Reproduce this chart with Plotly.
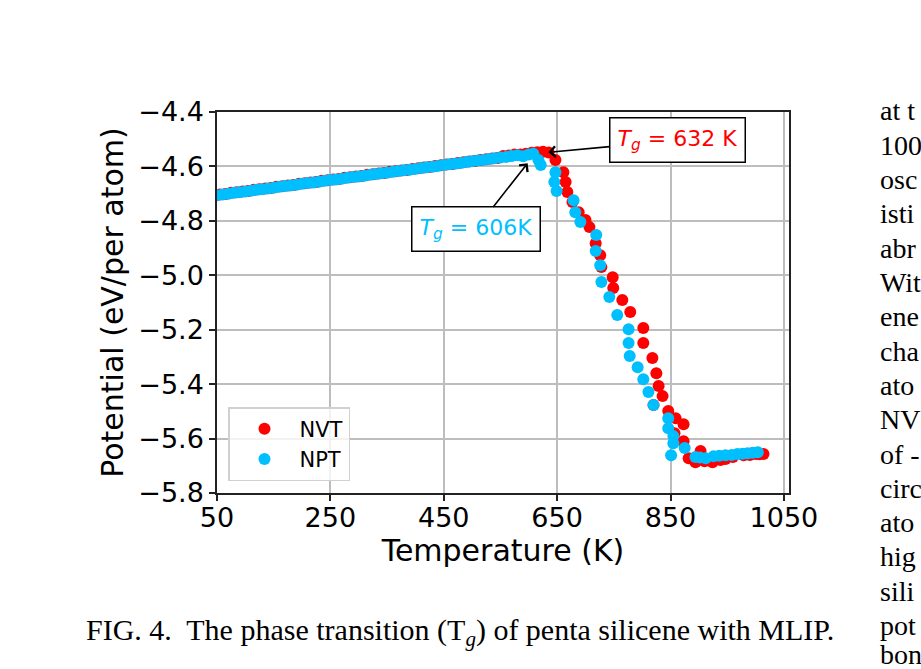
import plotly.graph_objects as go

# ---------------- data ----------------
nvt_T = [55, 65, 75, 85, 95, 105, 115, 125, 135, 145, 155, 165, 175, 185, 195, 205, 215, 225, 235, 245,
         255, 265, 275, 285, 295, 305, 315, 325, 335, 345, 355, 365, 375, 385, 395, 405, 415, 425, 435, 445,
         455, 465, 475, 485, 495, 505, 515, 525, 535, 545, 555, 565, 575, 585, 595, 605, 615, 625,
         635, 647, 661, 665, 668, 677, 688, 700, 707, 718, 726, 728, 748, 749, 765, 779, 802, 802,
         818, 825, 829, 836, 820, 846, 859, 873, 857, 873, 903, 882, 894, 910, 924, 938, 947, 960,
         979, 990, 1000, 1007, 1014]
nvt_V = [-4.703, -4.701, -4.697, -4.695, -4.692, -4.690, -4.686, -4.684, -4.681, -4.679, -4.675, -4.673,
         -4.670, -4.668, -4.664, -4.662, -4.659, -4.657, -4.653, -4.651, -4.648, -4.646, -4.642, -4.640,
         -4.637, -4.635, -4.631, -4.629, -4.626, -4.624, -4.620, -4.618, -4.615, -4.613, -4.609, -4.607,
         -4.604, -4.602, -4.598, -4.596, -4.593, -4.591, -4.587, -4.585, -4.582, -4.580, -4.576, -4.574,
         -4.571, -4.569, -4.562, -4.560, -4.556, -4.556, -4.553, -4.550, -4.548, -4.546,
         -4.549, -4.576, -4.621, -4.657, -4.694, -4.731, -4.768, -4.797, -4.823, -4.882, -4.926, -4.970,
         -5.007, -5.047, -5.091, -5.135, -5.194, -5.249, -5.304, -5.360, -5.407, -5.444, -5.477, -5.499,
         -5.525, -5.547, -5.580, -5.610, -5.646, -5.672, -5.687, -5.683, -5.687, -5.679, -5.675, -5.668,
         -5.661, -5.660, -5.657, -5.658, -5.657]

npt_T = [50, 60, 70, 80, 90, 100, 110, 120, 130, 140, 150, 160, 170, 180, 190, 200, 210, 220, 230, 240,
         250, 260, 270, 280, 290, 300, 310, 320, 330, 340, 350, 360, 370, 380, 390, 400, 410, 420, 430, 440,
         450, 460, 470, 480, 490, 500, 510, 520, 530, 540, 550, 560, 570, 580, 590, 600, 608, 617, 621,
         647, 645, 649, 679, 682, 691, 719, 718, 726, 728, 742, 756, 776, 776, 778, 792, 802, 811, 820,
         846, 846, 855, 855, 875, 851, 894, 902, 912, 926, 936, 947, 958, 968, 977, 986, 995, 1004]
npt_V = [-4.706, -4.703, -4.700, -4.697, -4.695, -4.692, -4.689, -4.686, -4.684, -4.681, -4.678, -4.675,
         -4.672, -4.670, -4.667, -4.664, -4.661, -4.659, -4.656, -4.653, -4.650, -4.648, -4.645, -4.642,
         -4.639, -4.637, -4.634, -4.631, -4.628, -4.625, -4.623, -4.620, -4.617, -4.614, -4.612, -4.609,
         -4.606, -4.603, -4.601, -4.598, -4.595, -4.592, -4.590, -4.587, -4.584, -4.581, -4.578, -4.576,
         -4.573, -4.570, -4.567, -4.565, -4.562, -4.559, -4.563, -4.556, -4.553, -4.576, -4.595,
         -4.621, -4.657, -4.690, -4.724, -4.768, -4.804, -4.852, -4.911, -4.963, -5.025, -5.080, -5.146,
         -5.198, -5.249, -5.297, -5.338, -5.382, -5.429, -5.477, -5.525, -5.562, -5.591, -5.617, -5.635,
         -5.661, -5.668, -5.670, -5.672, -5.665, -5.663, -5.661, -5.660, -5.657, -5.656, -5.654, -5.652,
         -5.650]

x_ticks = [50, 250, 450, 650, 850, 1050]
x_tick_labels = ["50", "250", "450", "650", "850", "1050"]
y_ticks = [-4.4, -4.6, -4.8, -5.0, -5.2, -5.4, -5.6, -5.8]
y_tick_labels = ["\u22124.4", "\u22124.6", "\u22124.8", "\u22125.0", "\u22125.2", "\u22125.4", "\u22125.6", "\u22125.8"]

tg_nvt = (634.6, -4.548)
tg_npt = (598.0, -4.588)

caption = "FIG. 4.  The phase transition (T<sub><i>g</i></sub>) of penta silicene with MLIP."
side_text = ["at t", "100", "osc", "isti", "abr", "Wit", "ene", "cha", "ato", "NV", "of -",
             "circ", "ato", "hig", "sili", "pot", "bon"]

# ---------------- layout geometry ----------------
W, H = 921, 669
L, R, T, B = 217, 789, 112, 493

def px(xp):
    return (xp - L) / (R - L)

def py(yp):
    return (B - yp) / (B - T)

RED = "#ff0000"
BLUE = "#00bfff"
FONT = "DejaVu Sans"

fig = go.Figure()
fig.add_trace(go.Scatter(x=nvt_T, y=nvt_V, mode="markers", name="NVT",
                         marker=dict(color=RED, size=12, line=dict(width=0))))
fig.add_trace(go.Scatter(x=npt_T, y=npt_V, mode="markers", name="NPT",
                         marker=dict(color=BLUE, size=12, line=dict(width=0))))

axis_common = dict(showline=True, linecolor="#222222", linewidth=1.5, mirror=True,
                   showgrid=True, gridcolor="#bdbdbd", gridwidth=1.5, zeroline=False,
                   ticks="outside", ticklen=6, tickwidth=1.5, tickcolor="#222222",
                   tickfont=dict(family=FONT, size=27, color="black"))

fig.update_layout(
    width=W, height=H,
    margin=dict(l=L, r=W - R, t=T, b=H - B),
    paper_bgcolor="white", plot_bgcolor="white",
    font=dict(family=FONT, color="black"),
    xaxis=dict(range=[50, 1059], tickvals=x_ticks, ticktext=x_tick_labels, ticklabelstandoff=-6,
               title=dict(text="Temperature (K)", font=dict(family=FONT, size=30), standoff=8),
               automargin=False, **axis_common),
    yaxis=dict(range=[-5.8, -4.4], tickvals=y_ticks, ticktext=y_tick_labels,
               title=dict(text="Potential (eV/per atom)", font=dict(family=FONT, size=30), standoff=6),
               automargin=False, **axis_common),
    legend=dict(x=px(228), y=py(407), xanchor="left", yanchor="top",
                bgcolor="rgba(255,255,255,0.8)", bordercolor="#d0d0d0", borderwidth=1.5,
                font=dict(family=FONT, size=21, color="black"), itemwidth=60,
                tracegroupgap=0),
    showlegend=True,
)

# T_g annotations
fig.add_annotation(x=tg_nvt[0], y=tg_nvt[1], xref="x", yref="y",
                   text="<i>T</i><sub><i>g</i></sub> = 632 K", showarrow=True,
                   ax=129, ay=-12, arrowhead=4, arrowsize=1.3, arrowwidth=1.6, arrowcolor="black",
                   font=dict(family=FONT, size=22, color=RED),
                   bgcolor="white", bordercolor="black", borderwidth=1.5, borderpad=7)
fig.add_annotation(x=tg_npt[0], y=tg_npt[1], xref="x", yref="y",
                   text="<i>T</i><sub><i>g</i></sub> = 606K", showarrow=True,
                   ax=-52, ay=66, arrowhead=4, arrowsize=1.3, arrowwidth=1.6, arrowcolor="black",
                   font=dict(family=FONT, size=22, color=BLUE),
                   bgcolor="white", bordercolor="black", borderwidth=1.5, borderpad=7)

# caption
fig.add_annotation(x=px(460), y=py(632), xref="paper", yref="paper", showarrow=False,
                   text=caption, xanchor="center", yanchor="middle",
                   font=dict(family="Liberation Serif", size=30, color="black"))

# right-hand body text fragments
for i, s in enumerate(side_text):
    yy = min(111 + 34.3 * i, 654)
    fig.add_annotation(x=px(878), y=py(yy), xref="paper", yref="paper",
                       showarrow=False, text=s, xanchor="left", yanchor="middle",
                       font=dict(family="Liberation Serif", size=28, color="black"))

fig.write_html("out.html")
